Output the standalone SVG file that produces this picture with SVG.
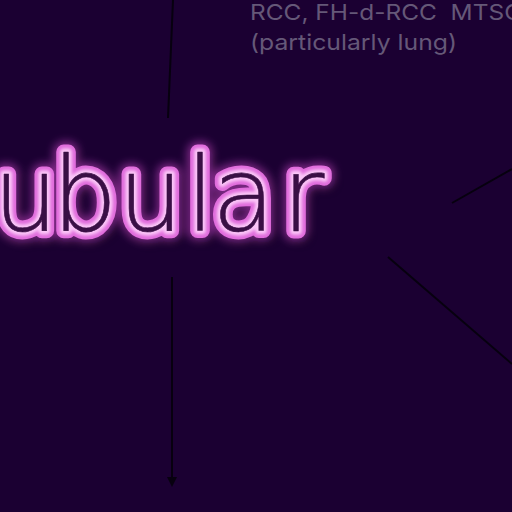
<svg xmlns="http://www.w3.org/2000/svg" width="512" height="512" viewBox="0 0 512 512">
<style>
.conn{stroke:#07000f;stroke-width:2;fill:none}
.lbl{font-family:Inter,"Noto Sans","Liberation Sans",sans-serif;font-size:22px;fill:#655878;white-space:pre}
.t{font-family:"DejaVu Sans","Liberation Sans",sans-serif;font-size:103px;font-weight:200;stroke-linejoin:round;stroke-linecap:round}
</style>
<defs>
<marker id="ah" markerWidth="10" markerHeight="10" refX="5" refY="5" orient="auto" markerUnits="userSpaceOnUse">
<path d="M0,0 L10,5 L0,10 z" fill="#07000f"/>
</marker>
<filter id="glow" x="-20%" y="-50%" width="140%" height="200%"><feGaussianBlur stdDeviation="4"/></filter>
<filter id="soft" x="-20%" y="-50%" width="140%" height="200%"><feGaussianBlur stdDeviation="1.5"/></filter>
</defs>
<rect width="512" height="512" fill="#1b0032"/>
<g id="connectors">
<line class="conn" x1="173" y1="0" x2="168" y2="118"/>
<line class="conn" x1="172" y1="277" x2="172" y2="482" marker-end="url(#ah)"/>
<line class="conn" x1="452" y1="203" x2="512" y2="169"/>
<line class="conn" x1="388" y1="257" x2="512" y2="364"/>
</g>
<g id="node-top">
<text class="lbl" x="250" y="20" textLength="272" lengthAdjust="spacingAndGlyphs" xml:space="preserve">RCC, FH-d-RCC  MTSC</text>
<text class="lbl" x="250" y="50" textLength="207" lengthAdjust="spacingAndGlyphs">(particularly lung)</text>
</g>
<g id="node-center">
<text class="t" x="-7 52 118 186 212 282" y="231" fill="none" stroke="#000010" stroke-width="15" opacity="0.7" filter="url(#glow)" transform="translate(3,4)">ubular</text>
<text class="t" x="-7 52 118 186 212 282" y="231" fill="none" stroke="#c040c0" stroke-width="21" opacity="0.6" filter="url(#glow)">ubular</text>
<text class="t" x="-7 52 118 186 212 282" y="231" fill="none" stroke="#e06ddc" stroke-width="15">ubular</text>
<text class="t" x="-7 52 118 186 212 282" y="231" fill="none" stroke="#fbc6f8" stroke-width="7" filter="url(#soft)">ubular</text>
<text class="t" x="-7 52 118 186 212 282" y="231" fill="#3a0f45" stroke="#3a0f45" stroke-width="0.6">ubular</text>
</g>
</svg>
